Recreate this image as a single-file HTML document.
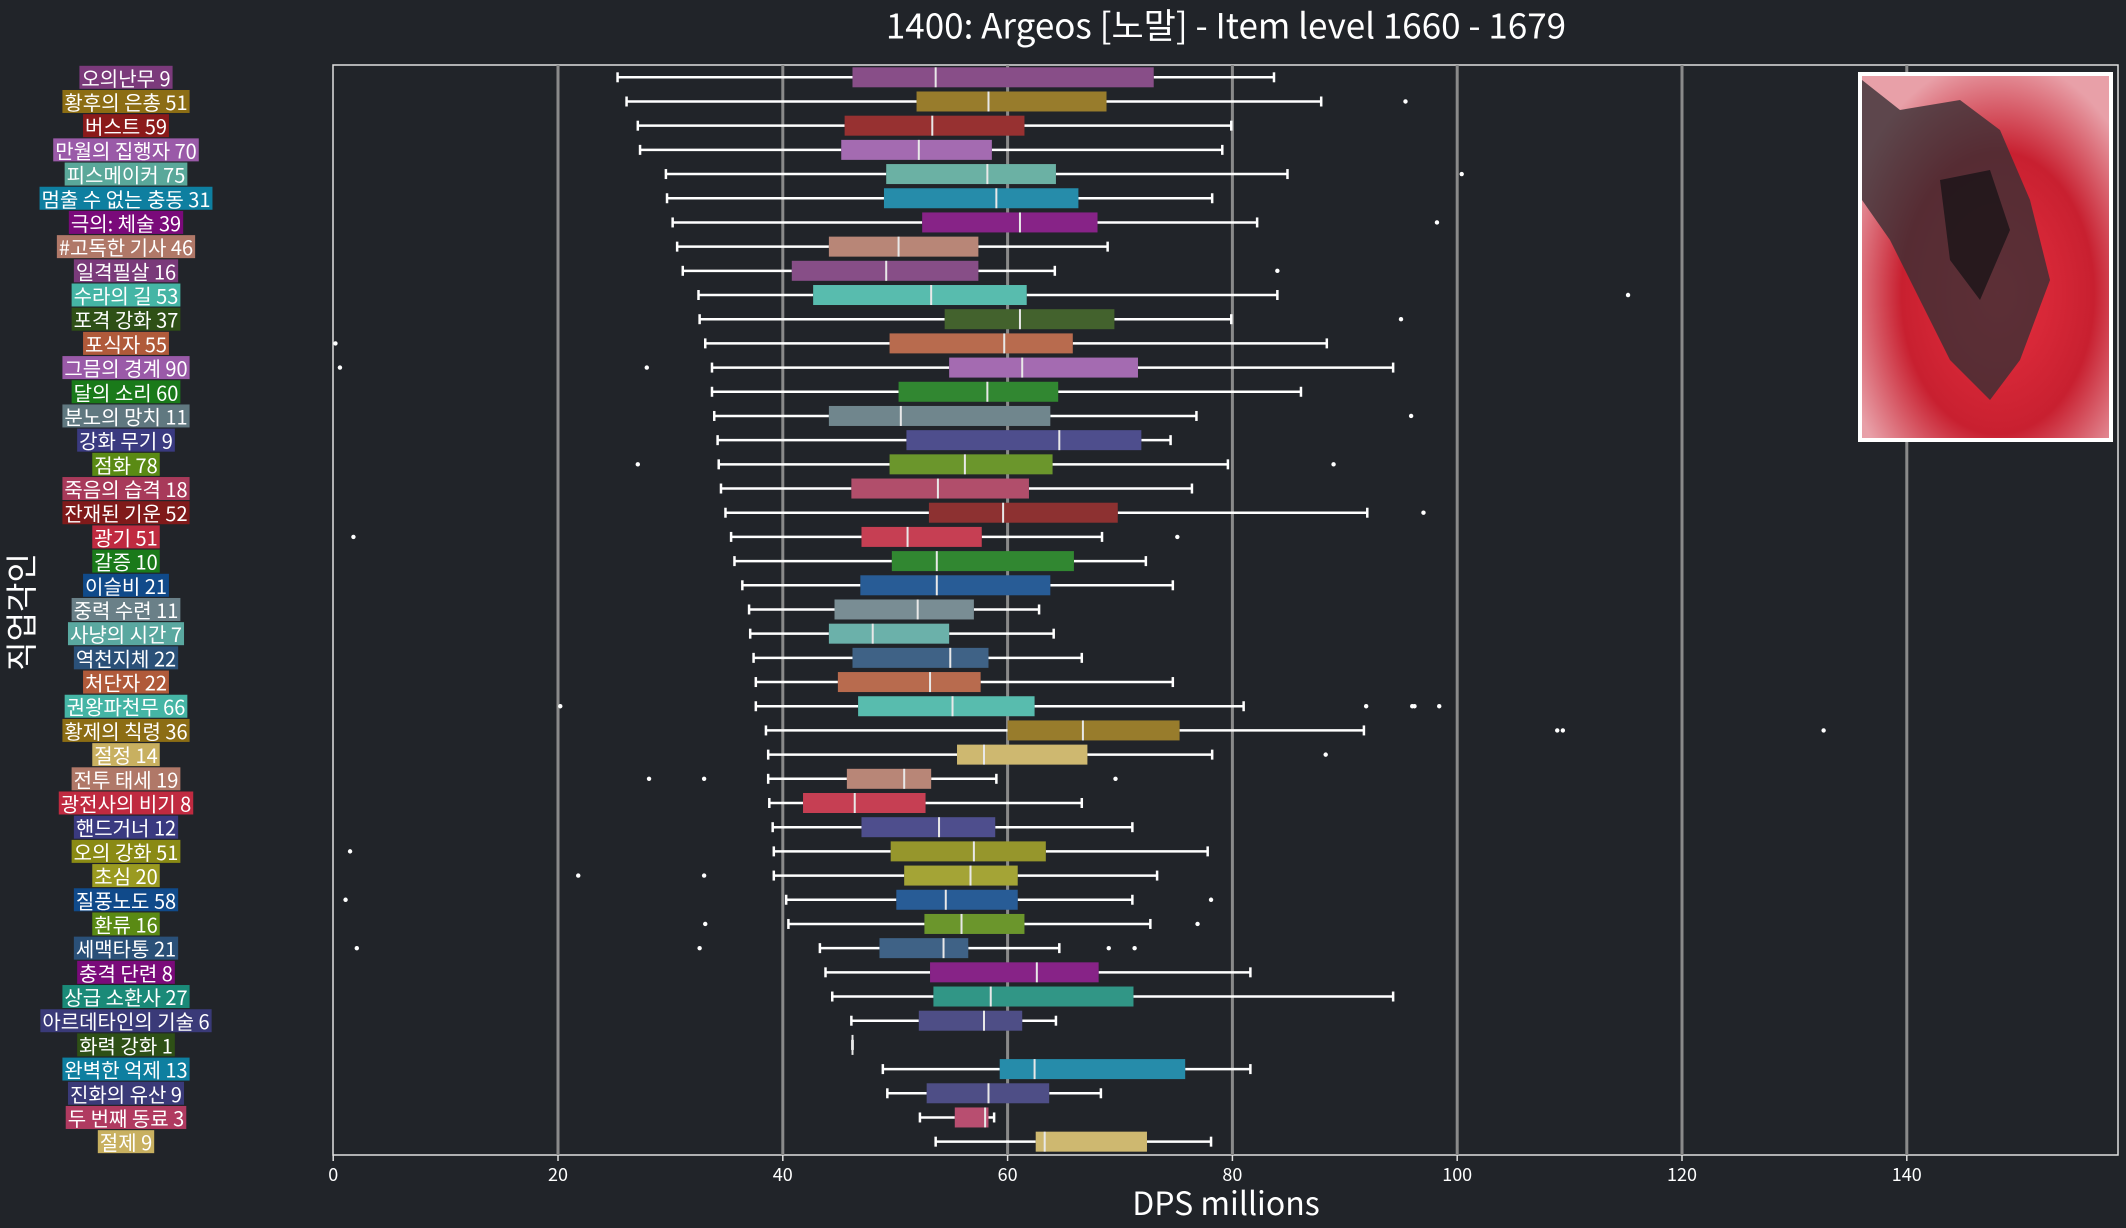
<!DOCTYPE html>
<html><head><meta charset="utf-8"><style>
html,body{margin:0;padding:0;background:#212429;}
svg{display:block;}
text{font-family:"Noto Sans CJK KR","Liberation Sans",sans-serif;}
</style></head><body>
<svg id="chart" width="2126" height="1228" viewBox="0 0 2126 1228" xmlns="http://www.w3.org/2000/svg">
<rect x="0" y="0" width="2126" height="1228" fill="#212429"/>
<text x="1226" y="24" fill="#ffffff" font-size="35" text-anchor="middle" dominant-baseline="central">1400: Argeos [노말] - Item level 1660 - 1679</text>
<rect x="333" y="65" width="1785" height="1090" fill="none" stroke="#e0e0e0" stroke-width="1.5"/>
<g id="grid"></g><g id="boxes"></g><g id="labels"></g><g id="xaxis"></g>
<text x="1226" y="1202" fill="#ffffff" font-size="32" text-anchor="middle" dominant-baseline="central">DPS millions</text>
<text x="0" y="0" transform="translate(20,612) rotate(-90)" fill="#ffffff" font-size="32" text-anchor="middle" dominant-baseline="central">직업각인</text>
<g>
<defs><radialGradient id="rg" cx="0.55" cy="0.6" r="0.65"><stop offset="0" stop-color="#e83040"/><stop offset="0.6" stop-color="#c82030"/><stop offset="1" stop-color="#e8a0a8"/></radialGradient></defs>
<rect x="1858" y="72" width="255" height="370" fill="#ffffff"/>
<rect x="1862" y="76" width="247" height="362" fill="url(#rg)"/>
<path d="M1862 80 L1900 110 L1960 100 L2000 130 L2030 200 L2050 280 L2020 360 L1990 400 L1950 360 L1920 300 L1890 240 L1862 200 Z" fill="#3a3035" opacity="0.8"/>
<path d="M1940 180 L1990 170 L2010 230 L1980 300 L1950 260 Z" fill="#1a1418" opacity="0.8"/>
</g>
</svg>
<script>
const categories=["오의난무 9","황후의 은총 51","버스트 59","만월의 집행자 70","피스메이커 75","멈출 수 없는 충동 31","극의: 체술 39","#고독한 기사 46","일격필살 16","수라의 길 53","포격 강화 37","포식자 55","그믐의 경계 90","달의 소리 60","분노의 망치 11","강화 무기 9","점화 78","죽음의 습격 18","잔재된 기운 52","광기 51","갈증 10","이슬비 21","중력 수련 11","사냥의 시간 7","역천지체 22","처단자 22","권왕파천무 66","황제의 칙령 36","절정 14","전투 태세 19","광전사의 비기 8","핸드거너 12","오의 강화 51","초심 20","질풍노도 58","환류 16","세맥타통 21","충격 단련 8","상급 소환사 27","아르데타인의 기술 6","화력 강화 1","완벽한 억제 13","진화의 유산 9","두 번째 동료 3","절제 9"];
const colors=["#7b3a7b","#8c6d14","#8b1a1a","#9a5aa8","#5aa89a","#0e7fa0","#7a0a7a","#b07868","#7a3a7a","#45b5a5","#2e5016","#b05a3a","#9a5aa8","#1a7a1a","#607880","#3a3a80","#5a8a14","#a83a5a","#801a1a","#c02a40","#1a7a1a","#104a8a","#6a8088","#5aa8a0","#2a5078","#b05a3a","#45b5a5","#8c6d14","#c8b060","#b07868","#c02a40","#3a3a80","#8a8a14","#9a9a20","#104a8a","#5a8a14","#2a5078","#7a0a7a","#1a8a78","#3a3a78","#2e5016","#0e7fa0","#3a3a78","#b03a60","#c8b060"];
const whiskerLow=[25.3,26.1,27.1,27.3,29.6,29.7,30.2,30.6,31.1,32.5,32.6,33.1,33.7,33.7,33.9,34.2,34.3,34.5,34.9,35.4,35.7,36.4,37.0,37.1,37.4,37.6,37.6,38.5,38.7,38.7,38.8,39.1,39.2,39.2,40.3,40.5,43.3,43.8,44.4,46.1,46.2,48.9,49.3,52.2,53.6];
const q1=[46.2,51.9,45.5,45.2,49.2,49.0,52.4,44.1,40.8,42.7,54.4,49.5,54.8,50.3,44.1,51.0,49.5,46.1,53.0,47.0,49.7,46.9,44.6,44.1,46.2,44.9,46.7,60.0,55.5,45.7,41.8,47.0,49.6,50.8,50.1,52.6,48.6,53.1,53.4,52.1,46.2,59.3,52.8,55.3,62.5];
const medians=[53.6,58.3,53.3,52.1,58.2,59.0,61.1,50.3,49.2,53.2,61.1,59.7,61.3,58.2,50.5,64.6,56.2,53.8,59.6,51.1,53.7,53.7,52.0,48.0,54.9,53.1,55.1,66.7,57.9,50.8,46.4,53.9,57.0,56.7,54.5,55.9,54.3,62.6,58.5,57.9,46.2,62.4,58.3,58.0,63.3];
const q3=[73.0,68.8,61.5,58.6,64.3,66.3,68.0,57.4,57.4,61.7,69.5,65.8,71.6,64.5,63.8,71.9,64.0,61.9,69.8,57.7,65.9,63.8,57.0,54.8,58.3,57.6,62.4,75.3,67.1,53.2,52.7,58.9,63.4,60.9,60.9,61.5,56.5,68.1,71.2,61.3,46.2,75.8,63.7,58.3,72.4];
const whiskerHigh=[83.7,87.9,79.9,79.1,84.9,78.2,82.2,68.9,64.2,84.0,79.9,88.4,94.3,86.1,76.8,74.5,79.6,76.4,92.0,68.4,72.3,74.7,62.8,64.1,66.6,74.7,81.0,91.7,78.2,59.0,66.6,71.1,77.8,73.3,71.1,72.7,64.6,81.6,94.3,64.3,46.2,81.6,68.3,58.8,78.1];
const outliers=[[],[95.4],[],[],[100.4],[],[98.2],[],[84.0],[115.2],[95.0],[0.2],[0.6,27.9],[],[95.9],[],[27.1,89.0],[],[97.0],[1.8,75.1],[],[],[],[],[],[],[20.2,91.9,96.0,96.2,98.4],[108.9,109.4,132.6],[88.3],[28.1,33.0,69.6],[],[],[1.5],[21.8,33.0],[1.1,78.1],[33.1,76.9],[2.1,32.6,69.0,71.3],[],[],[],[],[],[],[],[]];
const xTicks=[0,20,40,60,80,100,120,140];

const NS="http://www.w3.org/2000/svg";
const X0=333.2,XS=11.24,Y0=77.3,YS=24.19,BH=20,TOP=65,BOT=1155;
const xs=v=>X0+v*XS, ys=i=>Y0+i*YS;
function mk(tag,attrs,parent){const e=document.createElementNS(NS,tag);for(const k in attrs)e.setAttribute(k,attrs[k]);parent.appendChild(e);return e;}
const grid=document.getElementById('grid'),boxes=document.getElementById('boxes'),labels=document.getElementById('labels'),xaxis=document.getElementById('xaxis');
xTicks.forEach(t=>{
  if(t>0){const g=mk('line',{x1:xs(t),x2:xs(t),y1:TOP,y2:BOT,stroke:'#8a8a8a','stroke-width':3},grid);
  
  }
  const tk=mk('line',{x1:xs(t),x2:xs(t),y1:BOT,y2:BOT+6,stroke:'#e0e0e0','stroke-width':1.5},xaxis);
  
  
  const tl=mk('text',{x:xs(t),y:BOT+19,fill:'#ffffff','font-size':18,'text-anchor':'middle','dominant-baseline':'central'},xaxis);
  tl.textContent=t;
  
  
});
function lighten(c,a){const n=parseInt(c.slice(1),16);let r=n>>16,g=(n>>8)&255,b=n&255;r=Math.round(r+(255-r)*a);g=Math.round(g+(255-g)*a);b=Math.round(b+(255-b)*a);return `rgb(${r},${g},${b})`;}
categories.forEach((c,i)=>{
  const y=ys(i);
  const grp=mk('g',{},boxes);
  
  
  const w='#ffffff';
  mk('line',{x1:xs(whiskerLow[i]),x2:xs(q1[i]),y1:y,y2:y,stroke:w,'stroke-width':2.5},grp);
  mk('line',{x1:xs(q3[i]),x2:xs(whiskerHigh[i]),y1:y,y2:y,stroke:w,'stroke-width':2.5},grp);
  mk('line',{x1:xs(whiskerLow[i]),x2:xs(whiskerLow[i]),y1:y-5,y2:y+5,stroke:w,'stroke-width':2.5},grp);
  mk('line',{x1:xs(whiskerHigh[i]),x2:xs(whiskerHigh[i]),y1:y-5,y2:y+5,stroke:w,'stroke-width':2.5},grp);
  mk('rect',{x:xs(q1[i]),y:y-BH/2,width:Math.max(1,xs(q3[i])-xs(q1[i])),height:BH,fill:lighten(colors[i],0.1)},grp);
  mk('line',{x1:xs(medians[i]),x2:xs(medians[i]),y1:y-BH/2,y2:y+BH/2,stroke:'#e8e8e8','stroke-width':2},grp);
  outliers[i].forEach(o=>{const d=mk('circle',{cx:xs(o),cy:y,r:2.2,fill:'#ffffff'},grp);
    
    });
  const lg=mk('g',{},labels);
  
  
  const t=mk('text',{x:126,y:y,fill:'#ffffff','font-size':20,'text-anchor':'middle','dominant-baseline':'central'},lg);
  t.textContent=c;
  const bb=t.getBBox();
  const r=mk('rect',{x:bb.x-2,y:y-11.5,width:bb.width+4,height:23,fill:colors[i]},lg);
  lg.insertBefore(r,t);
});
</script>
</body></html>
